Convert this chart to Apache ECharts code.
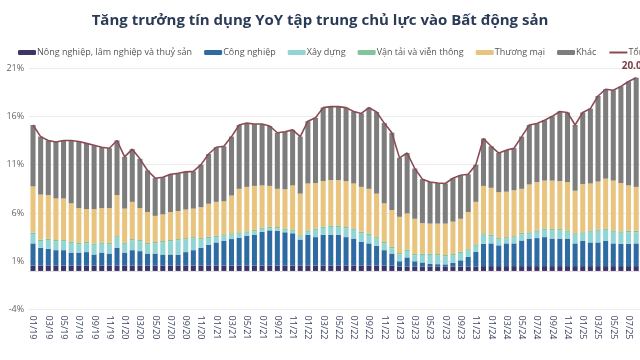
<!DOCTYPE html>
<html><head><meta charset="utf-8">
<script src="https://cdn.jsdelivr.net/npm/echarts@6/dist/echarts.min.js"></script>
<style>html,body{margin:0;padding:0;background:#fff}#c{width:640px;height:360px}</style>
</head><body><div id="c"></div>
<script>
const months = ["01/19","02/19","03/19","04/19","05/19","06/19","07/19","08/19","09/19","10/19","11/19","12/19",
"01/20","02/20","03/20","04/20","05/20","06/20","07/20","08/20","09/20","10/20","11/20","12/20",
"01/21","02/21","03/21","04/21","05/21","06/21","07/21","08/21","09/21","10/21","11/21","12/21",
"01/22","02/22","03/22","04/22","05/22","06/22","07/22","08/22","09/22","10/22","11/22","12/22",
"01/23","02/23","03/23","04/23","05/23","06/23","07/23","08/23","09/23","10/23","11/23","12/23",
"01/24","02/24","03/24","04/24","05/24","06/24","07/24","08/24","09/24","10/24","11/24","12/24",
"01/25","02/25","03/25","04/25","05/25","06/25","07/25","08/25"];

const nongNghiep = [0.55,0.55,0.55,0.55,0.55,0.55,0.55,0.55,0.55,0.55,0.55,0.55,
0.55,0.55,0.55,0.55,0.55,0.55,0.55,0.55,0.55,0.55,0.55,0.55,
0.55,0.55,0.55,0.55,0.55,0.55,0.55,0.55,0.55,0.55,0.55,0.55,
0.55,0.55,0.55,0.55,0.55,0.55,0.55,0.55,0.55,0.55,0.55,0.55,
0.45,0.45,0.45,0.45,0.45,0.45,0.45,0.45,0.45,0.45,0.45,0.5,
0.5,0.5,0.5,0.5,0.5,0.5,0.5,0.5,0.5,0.5,0.5,0.5,
0.5,0.5,0.5,0.5,0.5,0.5,0.5,0.5];

const congNghiep = [2.3,1.85,1.75,1.6,1.6,1.35,1.35,1.4,1.15,1.35,1.25,1.85,
1.35,1.6,1.5,1.25,1.25,1.15,1.15,1.1,1.4,1.6,1.85,2.15,
2.4,2.55,2.75,2.9,3.1,3.2,3.5,3.65,3.6,3.45,3.35,2.7,
3.2,2.95,3.2,3.2,3.2,2.95,2.8,2.45,2.3,2.05,1.6,1.25,
0.55,0.95,0.55,0.43,0.3,0.25,0.23,0.38,0.65,1.0,1.52,2.3,
2.35,2.15,2.35,2.35,2.65,2.85,2.9,3.0,2.85,2.85,2.85,2.35,
2.6,2.45,2.45,2.6,2.35,2.3,2.3,2.35];

const xayDung = [0.97,0.7,0.9,0.9,0.9,1.0,0.85,0.9,1.0,0.9,0.95,1.05,
0.9,1.0,1.0,0.95,1.05,1.25,1.35,1.5,1.3,1.2,0.85,0.7,
0.55,0.55,0.45,0.4,0.3,0.35,0.3,0.25,0.25,0.25,0.25,0.3,
0.3,0.75,0.7,0.8,0.8,0.9,0.9,0.9,0.87,0.75,0.7,0.55,
0.7,0.65,0.6,0.77,0.9,0.9,0.82,0.77,0.75,0.65,0.63,0.95,
0.75,0.6,0.5,0.6,0.65,0.5,0.65,0.75,0.85,0.85,0.7,0.9,
0.75,1.1,1.2,1.15,1.2,1.15,1.2,1.15];

const vanTai = [0.15,0.15,0.15,0.15,0.15,0.15,0.15,0.15,0.15,0.15,0.15,0.15,
0.15,0.15,0.15,0.15,0.15,0.15,0.15,0.15,0.15,0.15,0.15,0.15,
0.15,0.15,0.15,0.15,0.15,0.15,0.15,0.15,0.15,0.15,0.15,0.15,
0.15,0.15,0.15,0.15,0.15,0.15,0.15,0.15,0.15,0.15,0.15,0.15,
0.15,0.15,0.15,0.15,0.15,0.15,0.15,0.15,0.15,0.15,0.15,0.15,
0.15,0.15,0.15,0.15,0.15,0.15,0.15,0.15,0.15,0.15,0.15,0.15,
0.15,0.15,0.15,0.15,0.15,0.15,0.15,0.15];

const thuongMai = [4.78,4.65,4.5,4.3,4.3,3.95,3.6,3.4,3.55,3.55,3.6,4.25,
3.5,3.85,3.3,3.2,2.7,2.75,2.9,2.9,2.95,2.95,3.2,3.4,
3.5,3.4,3.9,4.5,4.6,4.55,4.35,4.2,3.95,4.05,4.55,4.3,
4.85,4.7,4.7,4.7,4.7,4.75,4.65,4.65,4.63,4.5,4.0,3.8,
3.75,3.75,3.65,3.15,3.1,3.15,3.25,3.35,3.4,3.85,4.4,4.9,
4.85,4.75,4.7,4.75,4.55,4.95,5.0,4.95,5.0,4.95,5.0,4.4,
5.0,4.85,4.95,5.15,5.15,5.0,4.7,4.55];

const khac = [6.35,6.0,5.65,5.85,6.0,6.5,6.9,6.8,6.6,6.3,6.2,5.65,
5.35,5.45,5.1,4.3,3.9,3.85,3.9,3.9,3.9,3.85,4.4,5.15,
5.65,5.7,6.1,6.6,6.6,6.4,6.35,6.2,5.8,5.95,5.75,5.9,
6.45,6.75,7.6,7.6,7.6,7.6,7.45,7.6,8.4,8.45,8.3,8.0,
6.1,6.25,5.2,4.55,4.3,4.2,4.15,4.5,4.5,3.9,3.85,4.9,
4.3,4.05,4.3,4.35,5.4,6.15,6.05,6.25,6.65,7.2,7.2,6.8,
7.4,7.75,8.85,9.25,9.35,10.0,10.75,11.3];

const tong = [15.1,13.9,13.5,13.35,13.5,13.5,13.4,13.2,13.0,12.8,12.7,13.5,
11.8,12.6,11.6,10.4,9.6,9.7,10.0,10.1,10.25,10.3,11.0,12.1,
12.8,12.9,13.9,15.1,15.3,15.2,15.2,15.0,14.3,14.4,14.6,13.9,
15.5,15.85,16.9,17.0,17.0,16.9,16.5,16.3,16.9,16.45,15.3,14.3,
11.7,12.2,10.6,9.5,9.2,9.1,9.05,9.6,9.9,10.0,11.0,13.7,
12.9,12.2,12.5,12.7,13.9,15.1,15.25,15.6,16.0,16.5,16.4,15.1,
16.4,16.8,18.1,18.8,18.7,19.1,19.6,20.0];

const yTicks = [-4, 1, 6, 11, 16, 21];

const chart = echarts.init(document.getElementById('c'), null, {renderer:'canvas'});
const barCommon = {type:'bar', stack:'s', barCategoryGap:'34%'};
const lastIdx = tong.length - 1;
chart.setOption({
  animation:false,
  backgroundColor:'#fff',
  textStyle:{fontFamily:'Open Sans'},
  title:{text:'Tăng trưởng tín dụng YoY tập trung chủ lực vào Bất động sản', left:'center', top:8,
    textStyle:{fontFamily:'Open Sans', fontWeight:'bold', fontSize:15, color:'#2a3b58'}},
  legend:{left:13, top:43, width:900, itemWidth:18, itemHeight:5, itemGap:12,
    textStyle:{fontSize:9, color:'#555', padding:[0,0,0,-4]},
    data:['Nông nghiệp, lâm nghiệp và thuỷ sản','Công nghiệp','Xây dựng','Vận tải và viễn thông','Thương mại','Khác',
      {name:'Tổng', itemStyle:{opacity:0}}]},
  grid:{left:29.2, right:-1.2, top:68, bottom:50.4, containLabel:false},
  xAxis:{type:'category', data:months,
    axisLine:{show:true, lineStyle:{color:'#e3e3e3'}}, axisTick:{show:false},
    axisLabel:{interval:1, rotate:-90, color:'#3a4260', fontSize:9, margin:6}},
  yAxis:{type:'value', min:yTicks[0], max:yTicks[yTicks.length-1], interval:5,
    axisLine:{show:false}, axisTick:{show:false},
    axisLabel:{formatter:v=>v+'%', color:'#666', fontSize:9, margin:5},
    splitLine:{lineStyle:{color:'#ececec'}}},
  series:[
    Object.assign({name:'Nông nghiệp, lâm nghiệp và thuỷ sản', data:nongNghiep, itemStyle:{color:'#3b3568'}}, barCommon),
    Object.assign({name:'Công nghiệp', data:congNghiep, itemStyle:{color:'#2f6ba3'}}, barCommon),
    Object.assign({name:'Xây dựng', data:xayDung, itemStyle:{color:'#93d5d5'}}, barCommon),
    Object.assign({name:'Vận tải và viễn thông', data:vanTai, itemStyle:{color:'#82c49c'}}, barCommon),
    Object.assign({name:'Thương mại', data:thuongMai, itemStyle:{color:'#e8c47e'}}, barCommon),
    Object.assign({name:'Khác', data:khac, itemStyle:{color:'#7d7d7d'}}, barCommon),
    {name:'Tổng', type:'line', data:tong, clip:false,
      symbol:'circle', symbolSize:0.1, showSymbol:true, z:5,
      lineStyle:{color:'#8a4b55', width:1.6}, itemStyle:{color:'#8a4b55'},
      label:{show:true, position:'top', distance:6,
        formatter:p=> p.dataIndex===lastIdx ? p.value.toFixed(1)+'%' : '',
        color:'#7a4048', fontSize:10, fontWeight:'bold'}}
  ]
});
</script></body></html>
